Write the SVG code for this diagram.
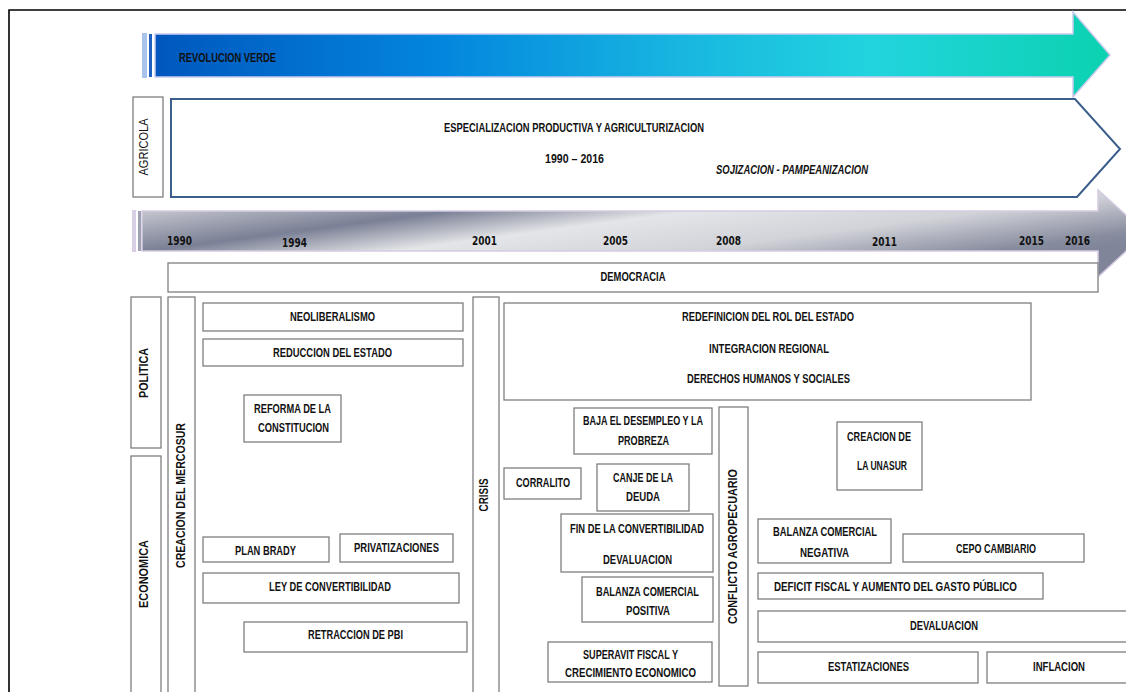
<svg xmlns="http://www.w3.org/2000/svg" width="1126" height="692" viewBox="0 0 1126 692">
<defs>
<linearGradient id="gVerde" x1="0" y1="0" x2="1" y2="0">
<stop offset="0" stop-color="#0057BE"/>
<stop offset="0.3" stop-color="#0386DE"/>
<stop offset="0.55" stop-color="#18B6E0"/>
<stop offset="0.75" stop-color="#22D4DE"/>
<stop offset="1" stop-color="#0BD2B0"/>
</linearGradient>
<linearGradient id="gTime" gradientUnits="userSpaceOnUse" x1="30.1" y1="226" x2="51.5" y2="386.5">
<stop offset="0" stop-color="#C4C6CE"/>
<stop offset="0.25" stop-color="#7A8095"/>
<stop offset="0.45" stop-color="#E4E5E8"/>
<stop offset="0.69" stop-color="#D2D3D9"/>
<stop offset="0.94" stop-color="#868B9D"/>
<stop offset="1" stop-color="#80859A"/>
</linearGradient>
<style>
.box{fill:#fff;stroke:#7f7f7f;stroke-width:1.3}
.t{font-family:"Liberation Sans",Arial,sans-serif;font-size:12.5px;font-weight:bold;fill:#111;text-anchor:middle}
.tl{font-family:"Liberation Sans",Arial,sans-serif;font-size:12.5px;font-weight:bold;fill:#111}
.v{font-family:"Liberation Sans",Arial,sans-serif;font-size:12px;font-weight:normal;fill:#111;text-anchor:middle}
.vb{font-family:"Liberation Sans",Arial,sans-serif;font-size:12px;font-weight:bold;fill:#111;text-anchor:middle}
.y{font-family:"DejaVu Sans",Verdana,sans-serif;font-size:11.5px;font-weight:bold;fill:#111}
</style>
</defs>

<g id="frame">
<path d="M9 692 V10 H1126" fill="none" stroke="#000" stroke-width="1.6"/>
</g>

<g id="revolucion-verde">
<rect x="142" y="33" width="5" height="45" fill="#A9C4EC"/>
<rect x="149" y="34" width="3" height="43" fill="#1E5FC2"/>
<path d="M155 34 H1073 V12 L1110 55 L1073 97 V77 H155 Z" fill="url(#gVerde)" stroke="#C9CBEE" stroke-width="1.5"/>
<text class="tl" x="179" y="62" textLength="97" lengthAdjust="spacingAndGlyphs">REVOLUCION VERDE</text>
</g>

<g id="agricola-label">
<rect class="box" x="133" y="97" width="30" height="100"/>
<text class="v" transform="translate(148 147) rotate(-90)" textLength="57" lengthAdjust="spacingAndGlyphs">AGRICOLA</text>
</g>

<g id="especializacion">
<path d="M171 99 H1075 L1120 149 L1077 197 H171 Z" fill="#fff" stroke="#3B5E8C" stroke-width="2"/>
<text class="t" x="574" y="132" textLength="260" lengthAdjust="spacingAndGlyphs">ESPECIALIZACION PRODUCTIVA Y AGRICULTURIZACION</text>
<text class="t" x="574.5" y="163" textLength="59" lengthAdjust="spacingAndGlyphs">1990 – 2016</text>
<text class="t" x="792" y="174" font-style="italic" textLength="152" lengthAdjust="spacingAndGlyphs">SOJIZACION - PAMPEANIZACION</text>
</g>

<g id="timeline">
<rect x="132" y="210" width="4" height="42" fill="#D9CFE4"/>
<rect x="138" y="211" width="3" height="40" fill="#9FA2B2"/>
<path d="M142 211 H1098 V190 L1146 233 L1098 277 V251 H142 Z" fill="url(#gTime)" stroke="#D6CBE2" stroke-width="1.5"/>
<text class="y" x="167" y="245" textLength="25" lengthAdjust="spacingAndGlyphs">1990</text>
<text class="y" x="282" y="247" textLength="25" lengthAdjust="spacingAndGlyphs">1994</text>
<text class="y" x="472" y="245" textLength="25" lengthAdjust="spacingAndGlyphs">2001</text>
<text class="y" x="603" y="245" textLength="25" lengthAdjust="spacingAndGlyphs">2005</text>
<text class="y" x="716" y="245" textLength="25" lengthAdjust="spacingAndGlyphs">2008</text>
<text class="y" x="872" y="246" textLength="25" lengthAdjust="spacingAndGlyphs">2011</text>
<text class="y" x="1019" y="245" textLength="25" lengthAdjust="spacingAndGlyphs">2015</text>
<text class="y" x="1065" y="245" textLength="25" lengthAdjust="spacingAndGlyphs">2016</text>
</g>

<g id="democracia">
<rect class="box" x="168" y="263" width="930" height="29"/>
<text class="t" x="633" y="281" textLength="65" lengthAdjust="spacingAndGlyphs">DEMOCRACIA</text>
</g>

<g id="politica-label">
<rect class="box" x="131" y="297" width="30" height="151"/>
<text class="vb" transform="translate(148 373) rotate(-90)" textLength="50" lengthAdjust="spacingAndGlyphs">POLITICA</text>
</g>
<g id="economica-label">
<rect class="box" x="131" y="456" width="30" height="250"/>
<text class="vb" transform="translate(148 574) rotate(-90)" textLength="68" lengthAdjust="spacingAndGlyphs">ECONOMICA</text>
</g>
<g id="mercosur">
<rect class="box" x="168" y="297" width="27" height="410"/>
<text class="vb" transform="translate(185 495.5) rotate(-90)" textLength="145" lengthAdjust="spacingAndGlyphs">CREACION DEL MERCOSUR</text>
</g>
<g id="crisis">
<rect class="box" x="473" y="297" width="26" height="410"/>
<text class="vb" transform="translate(488 495) rotate(-90)" textLength="33" lengthAdjust="spacingAndGlyphs">CRISIS</text>
</g>
<g id="conflicto">
<rect class="box" x="719" y="407" width="29" height="279"/>
<text class="vb" transform="translate(737 546.5) rotate(-90)" textLength="155" lengthAdjust="spacingAndGlyphs">CONFLICTO AGROPECUARIO</text>
</g>

<g id="neoliberalismo">
<rect class="box" x="203" y="303" width="260" height="28"/>
<text class="t" x="332.5" y="321" textLength="85" lengthAdjust="spacingAndGlyphs">NEOLIBERALISMO</text>
</g>
<g id="reduccion">
<rect class="box" x="203" y="339" width="260" height="27"/>
<text class="t" x="332.5" y="357" textLength="119" lengthAdjust="spacingAndGlyphs">REDUCCION DEL ESTADO</text>
</g>
<g id="reforma">
<rect class="box" x="244" y="395" width="97" height="47"/>
<text class="t" x="292.5" y="413" textLength="77" lengthAdjust="spacingAndGlyphs">REFORMA DE LA</text>
<text class="t" x="293.5" y="432" textLength="71" lengthAdjust="spacingAndGlyphs">CONSTITUCION</text>
</g>
<g id="plan-brady">
<rect class="box" x="203" y="537" width="126" height="25"/>
<text class="t" x="265.5" y="555" textLength="61" lengthAdjust="spacingAndGlyphs">PLAN BRADY</text>
</g>
<g id="privatizaciones">
<rect class="box" x="340" y="534" width="113" height="28"/>
<text class="t" x="396.5" y="552" textLength="85" lengthAdjust="spacingAndGlyphs">PRIVATIZACIONES</text>
</g>
<g id="ley-convertibilidad">
<rect class="box" x="203" y="573" width="256" height="30"/>
<text class="t" x="330" y="591" textLength="122" lengthAdjust="spacingAndGlyphs">LEY DE CONVERTIBILIDAD</text>
</g>
<g id="retraccion">
<rect class="box" x="244" y="622" width="223" height="30"/>
<text class="t" x="355.5" y="639" textLength="95" lengthAdjust="spacingAndGlyphs">RETRACCION DE PBI</text>
</g>

<g id="redefinicion">
<rect class="box" x="504" y="303" width="527" height="97"/>
<text class="t" x="768" y="321" textLength="172" lengthAdjust="spacingAndGlyphs">REDEFINICION DEL ROL DEL ESTADO</text>
<text class="t" x="769" y="353" textLength="120" lengthAdjust="spacingAndGlyphs">INTEGRACION REGIONAL</text>
<text class="t" x="768.5" y="383" textLength="163" lengthAdjust="spacingAndGlyphs">DERECHOS HUMANOS Y SOCIALES</text>
</g>
<g id="baja-desempleo">
<rect class="box" x="574" y="408" width="138" height="46"/>
<text class="t" x="643" y="425" textLength="120" lengthAdjust="spacingAndGlyphs">BAJA EL DESEMPLEO Y LA</text>
<text class="t" x="643.5" y="445" textLength="51" lengthAdjust="spacingAndGlyphs">PROBREZA</text>
</g>
<g id="corralito">
<rect class="box" x="504" y="468" width="77" height="31"/>
<text class="t" x="543" y="487" textLength="54" lengthAdjust="spacingAndGlyphs">CORRALITO</text>
</g>
<g id="canje-deuda">
<rect class="box" x="597" y="464" width="92" height="47"/>
<text class="t" x="643" y="482" textLength="60" lengthAdjust="spacingAndGlyphs">CANJE DE LA</text>
<text class="t" x="643" y="501" textLength="34" lengthAdjust="spacingAndGlyphs">DEUDA</text>
</g>
<g id="fin-convertibilidad">
<rect class="box" x="561" y="514" width="152" height="58"/>
<text class="t" x="637" y="533" textLength="134" lengthAdjust="spacingAndGlyphs">FIN DE LA CONVERTIBILIDAD</text>
<text class="t" x="637.5" y="564" textLength="69" lengthAdjust="spacingAndGlyphs">DEVALUACION</text>
</g>
<g id="balanza-positiva">
<rect class="box" x="582" y="577" width="131" height="45"/>
<text class="t" x="647.5" y="596" textLength="103" lengthAdjust="spacingAndGlyphs">BALANZA COMERCIAL</text>
<text class="t" x="648" y="615" textLength="44" lengthAdjust="spacingAndGlyphs">POSITIVA</text>
</g>
<g id="superavit">
<rect class="box" x="548" y="642" width="164" height="40"/>
<text class="t" x="630.5" y="659" textLength="95" lengthAdjust="spacingAndGlyphs">SUPERAVIT FISCAL Y</text>
<text class="t" x="630.5" y="677" textLength="131" lengthAdjust="spacingAndGlyphs">CRECIMIENTO ECONOMICO</text>
</g>

<g id="unasur">
<rect class="box" x="837" y="422" width="85" height="68"/>
<text class="t" x="879" y="441" textLength="64" lengthAdjust="spacingAndGlyphs">CREACION DE</text>
<text class="t" x="882" y="470" textLength="50" lengthAdjust="spacingAndGlyphs">LA UNASUR</text>
</g>
<g id="balanza-negativa">
<rect class="box" x="758" y="519" width="133" height="44"/>
<text class="t" x="825" y="536" textLength="104" lengthAdjust="spacingAndGlyphs">BALANZA COMERCIAL</text>
<text class="t" x="824.5" y="557" textLength="49" lengthAdjust="spacingAndGlyphs">NEGATIVA</text>
</g>
<g id="cepo">
<rect class="box" x="903" y="534" width="181" height="28"/>
<text class="t" x="996" y="553" textLength="80" lengthAdjust="spacingAndGlyphs">CEPO CAMBIARIO</text>
</g>
<g id="deficit">
<rect class="box" x="758" y="573" width="285" height="26"/>
<text class="t" x="895.5" y="591" textLength="243" lengthAdjust="spacingAndGlyphs">DEFICIT FISCAL Y AUMENTO DEL GASTO PÚBLICO</text>
</g>
<g id="devaluacion">
<rect class="box" x="758" y="611" width="380" height="31"/>
<text class="t" x="944" y="630" textLength="68" lengthAdjust="spacingAndGlyphs">DEVALUACION</text>
</g>
<g id="estatizaciones">
<rect class="box" x="758" y="652" width="220" height="31"/>
<text class="t" x="868.5" y="671" textLength="81" lengthAdjust="spacingAndGlyphs">ESTATIZACIONES</text>
</g>
<g id="inflacion">
<rect class="box" x="987" y="652" width="150" height="31"/>
<text class="t" x="1059" y="671" textLength="52" lengthAdjust="spacingAndGlyphs">INFLACION</text>
</g>
<g id="connectors"/>
</svg>
